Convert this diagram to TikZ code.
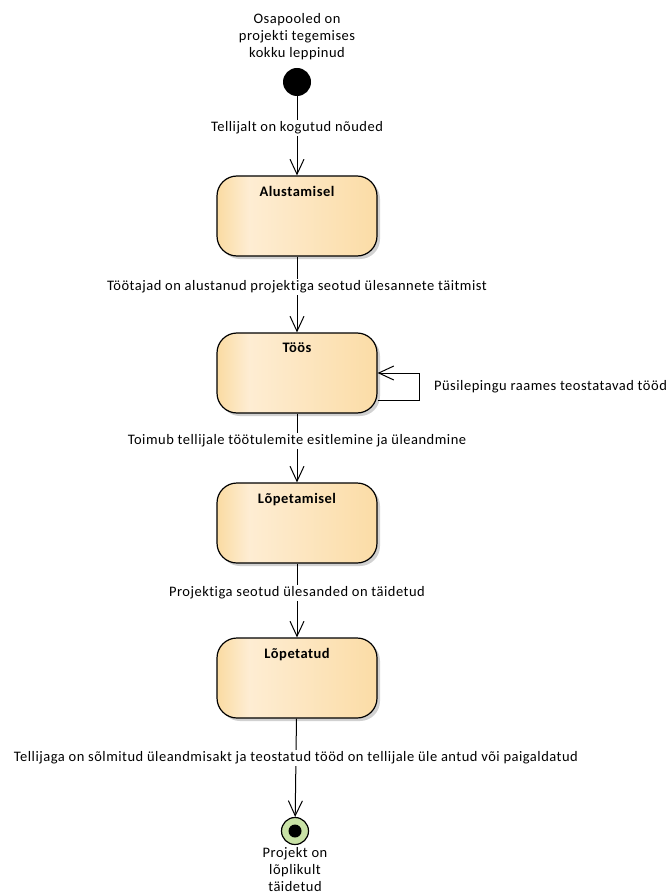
\documentclass[tikz,border=0pt]{standalone}
\usepackage{fontspec}
\setmainfont{Carlito}[LetterSpace=3.5, Ligatures={NoCommon, NoRare}]
\usetikzlibrary{arrows.meta,calc,shadows}

\definecolor{stateA}{HTML}{FADBA2}
\definecolor{stateB}{HTML}{FEEDD3}
\definecolor{stateC}{HTML}{FBDCA6}
\definecolor{finalfill}{HTML}{C9E2A6}
\pgfdeclarehorizontalshading{statefill}{100bp}{color(0bp)=(stateA); color(25bp)=(stateA); color(35bp)=(stateB); color(75bp)=(stateC); color(100bp)=(stateC)}

\begin{document}
\begin{tikzpicture}[
	x=1pt, y=-1pt,
	font=\fontsize{14.5}{17}\selectfont,
	state/.style={
		draw, line width=1.2pt, rounded corners=20pt,
		minimum width=160pt, minimum height=80pt,
		shade, shading=statefill,
		drop shadow={shadow xshift=3pt, shadow yshift=-3pt, opacity=0.3, fill=black!60}
	},
	title/.style={font=\fontsize{14.5}{17}\selectfont\bfseries, anchor=north, yshift=-7pt},
	initial/.style={circle, fill=black, minimum size=28pt, inner sep=0pt},
	final/.style={
		circle, draw, line width=1.2pt, fill=finalfill, minimum size=27pt, inner sep=0pt,
		path picture={\fill[black] (path picture bounding box.center) circle (6.5pt);}
	},
	note/.style={align=center, inner sep=0pt},
	edge/.style={-{Straight Barb[length=15pt, width=14pt]}, line width=1pt},
	lbl/.style={fill=white, inner sep=1.5pt, pos=0.4},
	]
	
	\useasboundingbox (0,0) rectangle (670,893);
	
	\node[note]    (startnote)   at (297, 37)  {Osapooled on\\projekti tegemises\\kokku leppinud};
	\node[initial] (start)       at (297, 82)  {};
	\node[state, label={[title]north:Alustamisel}] (alustamisel) at (297, 216) {};
	\node[state, label={[title]north:Töös}]        (toos)        at (297, 373) {};
	\node[state, label={[title]north:Lõpetamisel}] (lopetamisel) at (297, 523) {};
	\node[state, label={[title]north:Lõpetatud}]   (lopetatud)   at (297, 678) {};
	\node[final]   (end)         at (295, 831) {};
	\node[note]    (endnote)     at (295, 870) {Projekt on\\lõplikult\\täidetud};
	
	\draw[edge] (start)       -- node[lbl] {Tellijalt on kogutud nõuded} (alustamisel);
	\draw[edge] (alustamisel) -- node[lbl] {Töötajad on alustanud projektiga seotud ülesannete täitmist} (toos);
	\draw[edge] (toos)        -- node[lbl] {Toimub tellijale töötulemite esitlemine ja üleandmine} (lopetamisel);
	\draw[edge] (lopetamisel) -- node[lbl] {Projektiga seotud ülesanded on täidetud} (lopetatud);
	\draw[edge] (lopetatud)   -- node[lbl] {Tellijaga on sõlmitud üleandmisakt ja teostatud tööd on tellijale üle antud või paigaldatud} (end);
	\draw[edge] ($(toos.east)+(0,27)$) -- ++(42,0)
	|- node[pos=0.25, right=14pt, inner sep=0pt] {Püsilepingu raames teostatavad tööd} (toos.east);
	
\end{tikzpicture}
\end{document}
